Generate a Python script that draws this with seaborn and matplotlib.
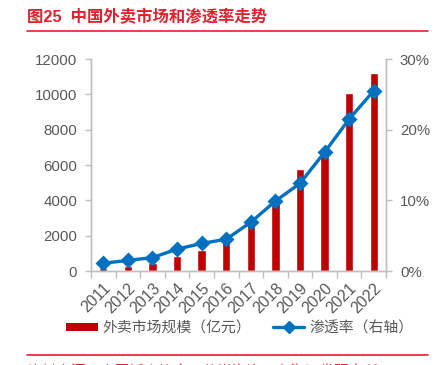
import numpy as np
import pandas as pd
import seaborn as sns
import matplotlib.pyplot as plt
from matplotlib.lines import Line2D

# Data
years = ["2011", "2012", "2013", "2014", "2015", "2016",
         "2017", "2018", "2019", "2020", "2021", "2022"]
market_size = [190, 300, 475, 830, 1210, 1625, 2640, 4240, 5770, 6850, 10050, 11190]  # 亿元
penetration = [1.1, 1.5, 1.9, 3.1, 3.9, 4.5, 6.9, 9.9, 12.4, 16.8, 21.5, 25.5]        # %

bar_label = "外卖市场规模（亿元）"
line_label = "渗透率（右轴）"
title = "图25  中国外卖市场和渗透率走势"
source = "资料来源：中国饭店协会，艾媒咨询，东海证券研究所"

df = pd.DataFrame({"year": years, "size": market_size, "rate": penetration})

sns.set_theme(style="white")
plt.rcParams["font.family"] = ["Liberation Sans", "Noto Sans CJK SC", "DejaVu Sans"]

RED = "#C00000"
BLUE = "#0070C0"
GRAY = "#595959"
AXIS = "#BFBFBF"
TITLE_RED = "#E3202F"

fig = plt.figure(figsize=(4.38, 3.65), dpi=100)
ax = fig.add_axes([0.2078, 0.2575, 0.6735, 0.5808])

sns.barplot(data=df, x="year", y="size", color=RED, width=0.34,
            saturation=1, ax=ax, label=bar_label)
ax.set_ylim(0, 12000)
ax.set_yticks(range(0, 12001, 2000))
ax.set_xlim(-0.5, len(years) - 0.5)
ax.set_xlabel("")
ax.set_ylabel("")

ax2 = ax.twinx()
sns.pointplot(data=df, x="year", y="rate", color=BLUE, markers="D",
              linestyles="-", ax=ax2, label=line_label)
for ln in ax2.lines:
    ln.set_linewidth(2.4)
    ln.set_markersize(6)
ax2.set_ylim(0, 30)
ax2.set_yticks([0, 10, 20, 30])
ax2.set_yticklabels([f"{v}%" for v in [0, 10, 20, 30]])
ax2.set_xlim(-0.5, len(years) - 0.5)
ax2.set_ylabel("")
ax2.set_xlabel("")

# spines and ticks
for a in (ax, ax2):
    for s in a.spines.values():
        s.set_color(AXIS)
        s.set_linewidth(1.0)
    a.spines["top"].set_visible(False)
ax.tick_params(axis="y", colors=AXIS, labelcolor=GRAY, labelsize=10.8,
               length=4, width=1, direction="out", left=True, pad=6)
ax2.tick_params(axis="y", colors=AXIS, labelcolor=GRAY, labelsize=10.8,
                length=4, width=1, direction="out", right=True, pad=6)
ax.set_xticks(np.arange(len(years)))
ax.set_xticks(np.arange(-0.5, len(years)), minor=True)
ax.set_xticklabels(years, rotation=45, ha="right", rotation_mode="anchor")
ax.tick_params(axis="x", which="major", length=0, labelcolor=GRAY,
               labelsize=11.5, pad=7)
ax.tick_params(axis="x", which="minor", length=5, width=1, color=AXIS,
               bottom=True, direction="out")
ax2.tick_params(axis="x", which="both", length=0, labelbottom=False)

# legend
handles = [
    plt.Rectangle((0, 0), 1, 1, facecolor=RED, edgecolor="none"),
    Line2D([0], [0], color=BLUE, lw=2.4, marker="D", markersize=6),
]
for a in (ax, ax2):
    if a.get_legend() is not None:
        a.get_legend().remove()
fig.legend(handles, [bar_label, line_label], loc="center",
           bbox_to_anchor=(0.548, 0.101), ncol=2, frameon=False,
           fontsize=10.7, labelcolor=GRAY, handlelength=2.1,
           handleheight=0.5, columnspacing=1.45, handletextpad=0.35)

# title and rules
fig.text(0.062, 0.953, title, color=TITLE_RED, fontsize=11.8,
         fontweight="bold", va="center", ha="left")
fig.add_artist(Line2D([0.062, 0.977], [0.915, 0.915], color=TITLE_RED, lw=1.2))
fig.add_artist(Line2D([0.062, 0.977], [0.027, 0.027], color=TITLE_RED, lw=1.2))
fig.text(0.062, -0.018, source, color=TITLE_RED, fontsize=10.5,
         va="center", ha="left")

fig.savefig("out.png", dpi=100)
